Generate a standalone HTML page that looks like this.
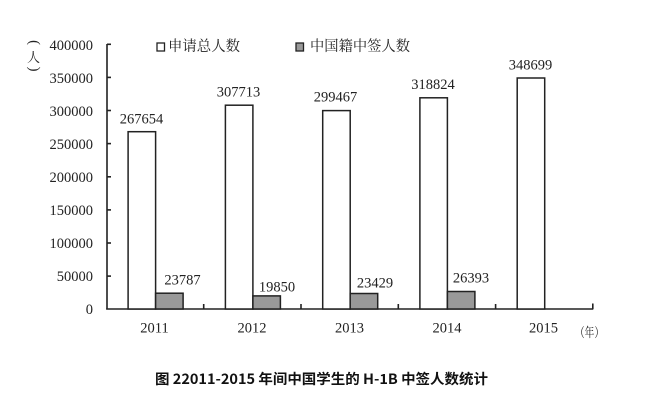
<!DOCTYPE html>
<html><head><meta charset="utf-8"><style>
html,body{margin:0;padding:0;background:#fff;}
svg{display:block;}
.t{font-family:"Liberation Serif","Noto Serif CJK SC",serif;font-size:14.5px;fill:#222;}
.c{font-family:"Noto Serif CJK SC","Liberation Serif",serif;fill:#222;}
</style></head><body>
<svg width="653" height="401" viewBox="0 0 653 401" xmlns="http://www.w3.org/2000/svg">
<rect width="653" height="401" fill="#fff"/>
<!-- axes -->
<g stroke="#222" stroke-width="1.6" fill="none">
<line x1="107" y1="44" x2="107" y2="309.5"/>
<line x1="106.2" y1="309" x2="593.3" y2="309"/>
<line x1="107" y1="44.3" x2="111" y2="44.3"/>
<line x1="107" y1="77.4" x2="111" y2="77.4"/>
<line x1="107" y1="110.5" x2="111" y2="110.5"/>
<line x1="107" y1="143.6" x2="111" y2="143.6"/>
<line x1="107" y1="176.8" x2="111" y2="176.8"/>
<line x1="107" y1="209.9" x2="111" y2="209.9"/>
<line x1="107" y1="243" x2="111" y2="243"/>
<line x1="107" y1="276.1" x2="111" y2="276.1"/>
<line x1="203.7" y1="309" x2="203.7" y2="304"/>
<line x1="301" y1="309" x2="301" y2="304"/>
<line x1="398.3" y1="309" x2="398.3" y2="304"/>
<line x1="495.6" y1="309" x2="495.6" y2="304"/>
<line x1="592.8" y1="309" x2="592.8" y2="303.5"/>
</g>
<!-- y labels -->
<g class="t" text-anchor="end">
<text x="93" y="50">400000</text>
<text x="93" y="83">350000</text>
<text x="93" y="116">300000</text>
<text x="93" y="149">250000</text>
<text x="93" y="182">200000</text>
<text x="93" y="215">150000</text>
<text x="93" y="248">100000</text>
<text x="93" y="281">50000</text>
<text x="93" y="314">0</text>
</g>
<!-- unit label -->
<g class="t" font-size="13" text-anchor="middle" fill="#333">
<text x="33.5" y="46" transform="rotate(90 33.5 42.5)">(</text>
<text x="33.5" y="62" class="c" font-size="13">人</text>
<text x="33.5" y="72.5" transform="rotate(90 33.5 69)">)</text>
</g>
<!-- bars -->
<g stroke="#222" stroke-width="1.5">
<rect x="128.1" y="131.7" width="27.5" height="177.3" fill="#fff"/>
<rect x="155.6" y="293.2" width="27.5" height="15.8" fill="#999"/>
<rect x="225.4" y="105.2" width="27.5" height="203.8" fill="#fff"/>
<rect x="252.9" y="295.9" width="27.5" height="13.1" fill="#999"/>
<rect x="322.7" y="110.6" width="27.5" height="198.4" fill="#fff"/>
<rect x="350.2" y="293.5" width="27.5" height="15.5" fill="#999"/>
<rect x="419.9" y="97.8" width="27.5" height="211.2" fill="#fff"/>
<rect x="447.4" y="291.5" width="27.5" height="17.5" fill="#999"/>
<rect x="517.2" y="78" width="27.5" height="231" fill="#fff"/>
</g>
<!-- value labels -->
<g class="t" text-anchor="middle">
<text x="141.5" y="123.3">267654</text>
<text x="238.5" y="96.7">307713</text>
<text x="335.5" y="101.7">299467</text>
<text x="433" y="89">318824</text>
<text x="530.5" y="69.3">348699</text>
<text x="182.5" y="284.7">23787</text>
<text x="277" y="291.5">19850</text>
<text x="375" y="287.3">23429</text>
<text x="471" y="282.7">26393</text>
</g>
<!-- x labels -->
<g class="t" text-anchor="middle">
<text x="154.5" y="332.5">2011</text>
<text x="252" y="332.5">2012</text>
<text x="349.5" y="332.5">2013</text>
<text x="447" y="332.5">2014</text>
<text x="543.5" y="332.5">2015</text>
</g>
<text x="575" y="337" class="c" font-size="13" textLength="29" lengthAdjust="spacingAndGlyphs" fill="#333">（年）</text>
<!-- legend -->
<rect x="157" y="43" width="7.5" height="8" fill="#fff" stroke="#222" stroke-width="1.3"/>
<text x="168" y="51" class="c" font-size="14.5" textLength="72" lengthAdjust="spacingAndGlyphs">申请总人数</text>
<rect x="296" y="43" width="7.5" height="8" fill="#999" stroke="#222" stroke-width="1.3"/>
<text x="310" y="51" class="c" font-size="14.5" textLength="100" lengthAdjust="spacingAndGlyphs">中国籍中签人数</text>
<!-- title -->
<text x="155" y="384" font-family="'Noto Sans CJK SC','Liberation Sans',sans-serif" font-weight="bold" font-size="14" fill="#111" textLength="333" lengthAdjust="spacingAndGlyphs">图 22011-2015 年间中国学生的 H-1B 中签人数统计</text>
</svg>
</body></html>
